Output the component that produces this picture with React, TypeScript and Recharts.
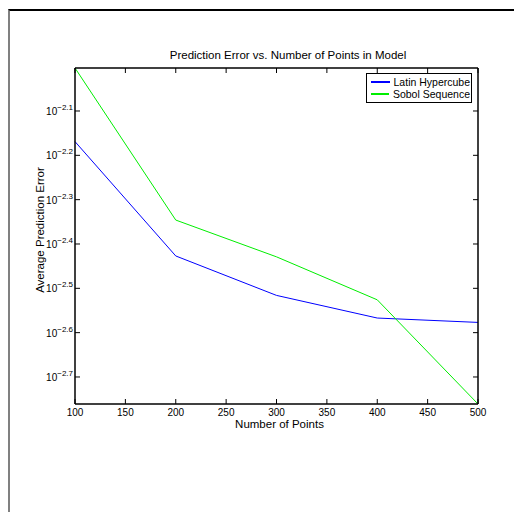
import React from "react";
import { LineChart, Line, XAxis, YAxis, Legend } from "recharts";

// points in model
const pointCounts = [100, 200, 300, 400, 500];
// average prediction error
const latinHypercube = [0.006776, 0.003741, 0.003048, 0.00271, 0.002649];
const sobolSequence = [0.009931, 0.004508, 0.003724, 0.002979, 0.001734];

const xTicks = [100, 150, 200, 250, 300, 350, 400, 450, 500];
const yTickExponents = [-2.1, -2.2, -2.3, -2.4, -2.5, -2.6, -2.7];

const seriesInfo = [
  { key: "latin", name: "Latin Hypercube", color: "#0000ff" },
  { key: "sobol", name: "Sobol Sequence", color: "#00ee00" },
];

const data = pointCounts.map((n, i) => ({
  n,
  latin: latinHypercube[i],
  sobol: sobolSequence[i],
}));

const allValues = [...latinHypercube, ...sobolSequence];
const yDomain = [Math.min(...allValues), Math.max(...allValues)];
const yTicks = yTickExponents.map((e) => Math.pow(10, e));

const FONT = "'Liberation Sans', Arial, Helvetica, sans-serif";

const LeftTick = (props: any) => {
  const { x, y, payload } = props;
  const exp = Math.log10(payload.value).toFixed(1);
  return (
    <g>
      <line x1={x} x2={x + 5} y1={y} y2={y} stroke="#000" />
      <text x={x - 2} y={y + 4} textAnchor="end" fontSize={10} fill="#000" fontFamily={FONT}>
        10
        <tspan dy={-5} fontSize={8}>{exp.replace("-", "\u2212")}</tspan>
      </text>
    </g>
  );
};

const RightTick = (props: any) => {
  const { x, y } = props;
  return <line x1={x - 5} x2={x} y1={y} y2={y} stroke="#000" />;
};

const BottomTick = (props: any) => {
  const { x, y, payload } = props;
  return (
    <g>
      <line x1={x} x2={x} y1={y - 5} y2={y} stroke="#000" />
      <text x={x} y={y + 12} textAnchor="middle" fontSize={10} fill="#000" fontFamily={FONT}>
        {payload.value}
      </text>
    </g>
  );
};

const TopTick = (props: any) => {
  const { x, y } = props;
  return <line x1={x} x2={x} y1={y} y2={y + 5} stroke="#000" />;
};

const LegendBox = () => (
  <div
    style={{
      border: "1.5px solid #000",
      background: "#fff",
      padding: "2px 1px 2px 4px",
      fontFamily: FONT,
      fontSize: 10.5,
      lineHeight: "12px",
      width: 99,
      whiteSpace: "nowrap",
    }}
  >
    {seriesInfo.map((s) => (
      <div key={s.key} style={{ display: "flex", alignItems: "center" }}>
        <span style={{ display: "inline-block", width: 25, height: 1.5, background: s.color, marginRight: 4 }} />
        <span>{s.name}</span>
      </div>
    ))}
  </div>
);

export default function App() {
  return (
    <div style={{ position: "absolute", left: 0, top: 0, width: 514, height: 512, background: "#fff" }}>
      <div
        style={{
          position: "absolute",
          left: 8,
          top: 9,
          width: 506,
          height: 503,
          borderTop: "2px solid #000",
          borderLeft: "2px solid #808080",
        }}
      />
      <div
        style={{
          position: "absolute",
          left: 188,
          width: 200,
          top: 49,
          textAlign: "center",
          whiteSpace: "nowrap",
          display: "flex",
          justifyContent: "center",
          fontFamily: FONT,
          fontSize: 11.5,
        }}
      >
        Prediction Error vs. Number of Points in Model
      </div>
      <div
        style={{
          position: "absolute",
          left: 279.5,
          top: 424,
          transform: "translate(-50%, -50%)",
          whiteSpace: "nowrap",
          fontFamily: FONT,
          fontSize: 11.5,
        }}
      >
        Number of Points
      </div>
      <div
        style={{
          position: "absolute",
          left: 39.5,
          top: 229.5,
          transform: "translate(-50%, -50%) rotate(-90deg)",
          whiteSpace: "nowrap",
          fontFamily: FONT,
          fontSize: 11.5,
        }}
      >
        Average Prediction Error
      </div>
      <div style={{ position: "absolute", left: 0, top: 0 }}>
        <LineChart width={514} height={512} data={data} margin={{ top: 67, right: 35, bottom: 78, left: 25 }}>
          <XAxis
            dataKey="n"
            type="number"
            domain={[100, 500]}
            ticks={xTicks}
            height={30}
            axisLine={{ stroke: "#000", strokeWidth: 1.5 }}
            tickLine={false}
            tickSize={0}
            tickMargin={0}
            tick={<BottomTick />}
          />
          <XAxis
            xAxisId="top"
            dataKey="n"
            orientation="top"
            type="number"
            domain={[100, 500]}
            ticks={xTicks}
            height={1}
            axisLine={{ stroke: "#000", strokeWidth: 1.5 }}
            tickLine={false}
            tickSize={0}
            tickMargin={0}
            tick={<TopTick />}
          />
          <YAxis
            scale="log"
            type="number"
            domain={yDomain}
            allowDataOverflow
            ticks={yTicks}
            width={50}
            axisLine={{ stroke: "#000", strokeWidth: 1.5 }}
            tickLine={false}
            tickSize={0}
            tickMargin={0}
            tick={<LeftTick />}
          />
          <YAxis
            yAxisId="right"
            orientation="right"
            scale="log"
            type="number"
            domain={yDomain}
            allowDataOverflow
            ticks={yTicks}
            width={1}
            axisLine={{ stroke: "#000", strokeWidth: 1.5 }}
            tickLine={false}
            tickSize={0}
            tickMargin={0}
            tick={<RightTick />}
          />
          <Legend
            layout="vertical"
            align="center"
            verticalAlign="middle"
            content={<LegendBox />}
            wrapperStyle={{ left: 366, top: 73, width: "auto" }}
          />
          {/* invisible series so the mirrored top/right axes are drawn */}
          <Line
            xAxisId="top"
            yAxisId="right"
            dataKey="latin"
            stroke="none"
            dot={false}
            activeDot={false}
            legendType="none"
            isAnimationActive={false}
          />
          {seriesInfo.map((s) => (
            <Line
              key={s.key}
              type="linear"
              dataKey={s.key}
              name={s.name}
              stroke={s.color}
              strokeWidth={1}
              dot={false}
              activeDot={false}
              isAnimationActive={false}
            />
          ))}
        </LineChart>
      </div>
    </div>
  );
}
